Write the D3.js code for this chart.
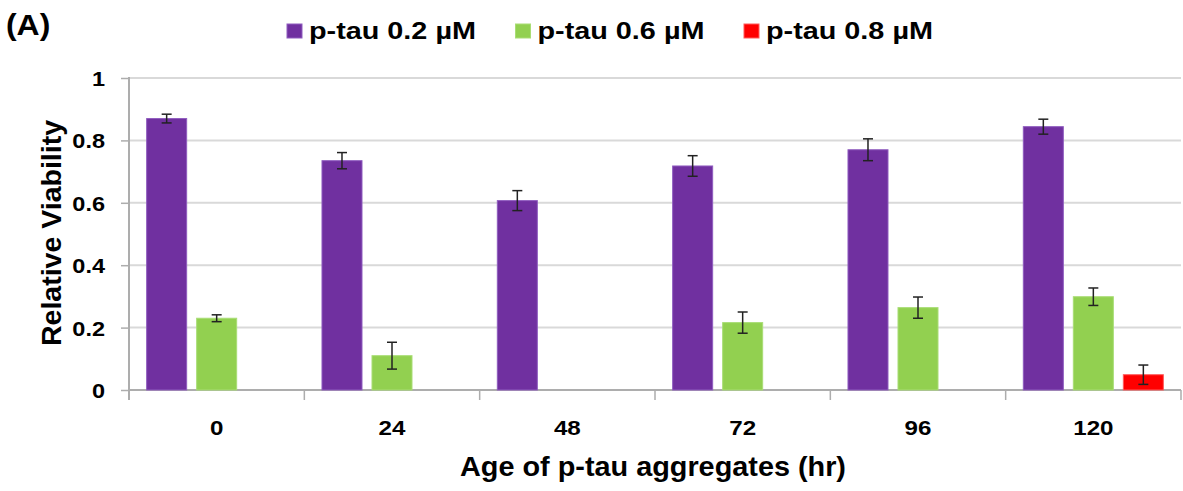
<!DOCTYPE html>
<html>
<head>
<meta charset="utf-8">
<script src="https://cdn.jsdelivr.net/npm/d3@7"></script>
<style>
  html, body { margin: 0; padding: 0; background: #ffffff; }
  svg { display: block; }
  text { font-family: "Liberation Sans", Arial, sans-serif; font-weight: bold; fill: #000; }
</style>
</head>
<body>
<svg id="chart" width="1183" height="491"></svg>
<script>
// Age of the p-tau aggregates (hours)
const categories = ["0", "24", "48", "72", "96", "120"];

// Series names and colours
const seriesNames = ["p-tau 0.2 µM", "p-tau 0.6 µM", "p-tau 0.8 µM"];
const seriesColors = ["#7030A0", "#92D050", "#FF0000"];
const seriesStrokes = ["#8f5cbf", "#a9dd75", "#ff5a5a"];

// Relative viability (mean) per age; null = no bar
const viability02 = [0.870, 0.735, 0.607, 0.718, 0.770, 0.844];
const viability06 = [0.230, 0.110, null, 0.216, 0.264, 0.299];
const viability08 = [null, null, null, null, null, 0.049];

// Error bar half-widths
const error02 = [0.014, 0.026, 0.032, 0.033, 0.035, 0.024];
const error06 = [0.011, 0.043, null, 0.034, 0.034, 0.028];
const error08 = [null, null, null, null, null, 0.031];

// Y axis ticks
const yTicks = [0, 0.2, 0.4, 0.6, 0.8, 1];
const yTickLabels = ["0", "0.2", "0.4", "0.6", "0.8", "1"];

const values = [viability02, viability06, viability08];
const errors = [error02, error06, error08];

const svg = d3.select("#chart");

const plot = { left: 129, right: 1181, top: 78, bottom: 390 };

const x = d3.scaleBand()
  .domain(categories)
  .range([plot.left, plot.right])
  .paddingInner(0)
  .paddingOuter(0);

const xSeries = d3.scaleBand()
  .domain(seriesNames)
  .range([0, x.bandwidth()])
  .paddingInner(0.2)
  .paddingOuter(0.353);

const y = d3.scaleLinear()
  .domain([0, 1])
  .range([plot.bottom, plot.top]);

const gridColor = "#D9D9D9";
const axisColor = "#ADADAD";

// Horizontal gridlines
svg.append("g")
  .selectAll("line")
  .data(yTicks.filter(d => d > 0))
  .join("line")
  .attr("x1", plot.left)
  .attr("x2", plot.right)
  .attr("y1", d => y(d))
  .attr("y2", d => y(d))
  .attr("stroke", gridColor)
  .attr("stroke-width", 2);

// Y axis
const yAxis = svg.append("g")
  .attr("transform", `translate(${plot.left},0)`)
  .call(d3.axisLeft(y)
    .tickValues(yTicks)
    .tickFormat((d, i) => yTickLabels[i])
    .tickSize(8)
    .tickSizeOuter(0));
yAxis.select(".domain").remove();
yAxis.selectAll(".tick line").attr("stroke", axisColor).attr("stroke-width", 1.5);
yAxis.selectAll(".tick text")
  .attr("x", null)
  .attr("dy", null)
  .attr("text-anchor", "end")
  .attr("transform", "translate(-24,7.5) scale(1.12,1)")
  .style("font-size", "21px");
yAxis.append("line")
  .attr("x1", 0).attr("x2", 0)
  .attr("y1", plot.top - 1).attr("y2", plot.bottom + 10)
  .attr("stroke", axisColor).attr("stroke-width", 2);

// X axis: baseline, category boundary ticks and labels
const xAxis = svg.append("g")
  .attr("transform", `translate(0,${plot.bottom})`)
  .call(d3.axisBottom(x).tickSize(0).tickSizeOuter(0));
xAxis.select(".domain").remove();
xAxis.selectAll(".tick text")
  .attr("y", null)
  .attr("dy", null)
  .attr("text-anchor", "middle")
  .attr("transform", "translate(0,44.5) scale(1.15,1)")
  .style("font-size", "21px");
xAxis.append("line")
  .attr("x1", plot.left).attr("x2", plot.right)
  .attr("y1", 0).attr("y2", 0)
  .attr("stroke", axisColor).attr("stroke-width", 2);
xAxis.append("g")
  .selectAll("line")
  .data(categories.map(c => x(c)).concat([plot.right]))
  .join("line")
  .attr("x1", d => d).attr("x2", d => d)
  .attr("y1", 0).attr("y2", 10)
  .attr("stroke", axisColor).attr("stroke-width", 1.5);

// Bars
const barData = [];
seriesNames.forEach((s, si) => {
  categories.forEach((c, ci) => {
    const v = values[si][ci];
    if (v !== null) barData.push({ series: s, si, cat: c, value: v, err: errors[si][ci] });
  });
});

svg.append("g")
  .selectAll("rect")
  .data(barData)
  .join("rect")
  .attr("x", d => x(d.cat) + xSeries(d.series))
  .attr("y", d => y(d.value))
  .attr("width", xSeries.bandwidth())
  .attr("height", d => y(0) - y(d.value))
  .attr("fill", d => seriesColors[d.si])
  .attr("stroke", d => seriesStrokes[d.si])
  .attr("stroke-width", 1);

// Error bars
const errG = svg.append("g")
  .selectAll("g")
  .data(barData.filter(d => d.err !== null))
  .join("g")
  .attr("transform", d => `translate(${x(d.cat) + xSeries(d.series) + xSeries.bandwidth() / 2},0)`)
  .attr("stroke", "#222")
  .attr("stroke-width", 1.5);
errG.append("line")
  .attr("x1", 0).attr("x2", 0)
  .attr("y1", d => y(d.value + d.err))
  .attr("y2", d => y(d.value - d.err));
errG.append("line")
  .attr("x1", -5).attr("x2", 5)
  .attr("y1", d => y(d.value + d.err))
  .attr("y2", d => y(d.value + d.err));
errG.append("line")
  .attr("x1", -5).attr("x2", 5)
  .attr("y1", d => y(d.value - d.err))
  .attr("y2", d => y(d.value - d.err));

// Axis titles
svg.append("text")
  .attr("transform", `translate(${(plot.left + plot.right) / 2 - 2},476) scale(1.03,1)`)
  .attr("text-anchor", "middle")
  .style("font-size", "28px")
  .text("Age of p-tau aggregates (hr)");

svg.append("text")
  .attr("transform", `translate(61,${(plot.top + plot.bottom) / 2 - 1}) rotate(-90)`)
  .attr("text-anchor", "middle")
  .style("font-size", "28.5px")
  .text("Relative Viability");

// Panel label
svg.append("text")
  .attr("transform", "translate(6,35) scale(1.1,1)")
  .style("font-size", "29px")
  .text("(A)");

// Legend
const legend = svg.append("g")
  .selectAll("g")
  .data(seriesNames)
  .join("g")
  .attr("transform", (d, i) => `translate(${287 + i * 228.5},0)`);
legend.append("rect")
  .attr("x", 0).attr("y", 24)
  .attr("width", 15).attr("height", 14)
  .attr("fill", (d, i) => seriesColors[i])
  .attr("stroke", (d, i) => seriesStrokes[i])
  .attr("stroke-width", 1);
legend.append("text")
  .attr("transform", "translate(22,38.5) scale(1.2,1)")
  .style("font-size", "24px")
  .text(d => d);
</script>
</body>
</html>
